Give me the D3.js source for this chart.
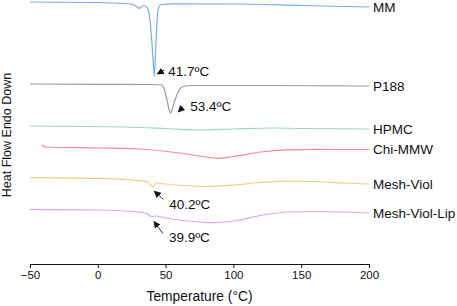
<!DOCTYPE html>
<html>
<head>
<meta charset="utf-8">
<script src="https://cdn.jsdelivr.net/npm/d3@7"></script>
<style>
  body { margin: 0; background: #fff; }
  svg { display: block; font-family: "Liberation Sans", Arial, sans-serif; }
</style>
</head>
<body>
<svg id="chart" width="457" height="306"></svg>
<script>
// temperature (°C) and heat flow (a.u., stacked offsets)
const mmT    = [-50, 0, 20, 27, 29, 30.5, 32, 33.5, 36, 38, 39.5, 40.8, 41.7, 42.5, 43.3, 44, 45, 47, 55, 100, 150, 200];
const mmHF   = [262, 261.5, 260.5, 259, 257, 255.7, 257, 258.5, 257, 249, 229, 204, 188, 209, 234, 249, 257, 259.5, 260.2, 260, 258.5, 257];
const p188T  = [-50, 0, 40, 47, 49, 51, 52.5, 53.4, 54.5, 56, 58, 60, 63, 70, 120, 200];
const p188HF = [180, 179.7, 179.5, 179, 175, 164, 155, 151, 153, 160, 168, 174, 177.5, 178.5, 178.5, 178];
const hpmcT  = [-50, 20, 50, 75, 100, 130, 150, 200];
const hpmcHF = [138, 137, 135.5, 134, 135, 136, 135.5, 135];
const chiT   = [-41, -39, 0, 30, 60, 80, 88, 100, 120, 140, 160, 200];
const chiHF  = [119, 117, 116, 115, 111, 107, 105.7, 107.5, 112, 114.2, 114.7, 114.5];
const violT  = [-50, 0, 30, 37, 40.2, 43, 50, 70, 80, 100, 120, 140, 160, 180, 200];
const violHF = [86.3, 85.7, 83.5, 82, 76.7, 81, 80, 78, 77.5, 79, 81.5, 82.8, 82.5, 81, 80];
const lipT   = [-50, 0, 30, 36, 39.9, 42, 50, 70, 85, 100, 120, 140, 160, 200];
const lipHF  = [54.7, 54, 52, 50.5, 47.5, 48, 46, 42.5, 41.3, 43, 48.5, 52, 52.5, 51];

const seriesNames = ["MM", "P188", "HPMC", "Chi-MMW", "Mesh-Viol", "Mesh-Viol-Lip"];
const seriesT = [mmT, p188T, hpmcT, chiT, violT, lipT];
const seriesHF = [mmHF, p188HF, hpmcHF, chiHF, violHF, lipHF];
const colors = ["#7ba7ee", "#9a9a9a", "#9fd9b4", "#f58a93", "#f0cf85", "#d7a8ef"];

// peak annotations
const peakSeries = [0, 1, 4, 5];
const peakT = [41.7, 53.4, 40.2, 39.9];
const peakLabels = ["41.7ºC", "53.4ºC", "40.2ºC", "39.9ºC"];

const xTicks = [-50, 0, 50, 100, 150, 200];

const margin = {top: 0, left: 30, right: 88, bottom: 42};
const width = 457 - margin.left - margin.right;
const height = 306 - margin.top - margin.bottom;

const svg = d3.select("#chart");
const g = svg.append("g").attr("transform", `translate(${margin.left},${margin.top})`);

const x = d3.scaleLinear().domain([-50, 200]).range([0, width]);
const y = d3.scaleLinear().domain([0, 264]).range([height, 0]);

const line = d3.line()
  .x(d => x(d[0]))
  .y(d => y(d[1]))
  .curve(d3.curveMonotoneX);

const series = seriesNames.map((name, i) => ({
  name,
  color: colors[i],
  points: seriesT[i].map((t, j) => [t, seriesHF[i][j]])
}));

g.selectAll("path.curve")
  .data(series)
  .join("path")
  .attr("class", "curve")
  .attr("fill", "none")
  .attr("stroke", d => d.color)
  .attr("stroke-width", 1.2)
  .attr("d", d => line(d.points));

// series labels at right end
g.selectAll("text.name")
  .data(series)
  .join("text")
  .attr("class", "name")
  .attr("x", width + 4)
  .attr("y", d => y(d.points[d.points.length - 1][1]))
  .attr("dy", "0.35em")
  .attr("font-size", 13.5)
  .attr("fill", "#111")
  .text(d => d.name);

// arrow marker
svg.append("defs").append("marker")
  .attr("id", "arrow")
  .attr("viewBox", "0 0 10 10")
  .attr("refX", 9).attr("refY", 5)
  .attr("markerWidth", 7).attr("markerHeight", 7)
  .attr("markerUnits", "userSpaceOnUse")
  .attr("orient", "auto")
  .append("path")
  .attr("d", "M0,0L10,5L0,10z")
  .attr("fill", "#111");

// annotation offsets: tip, tail, text (relative to peak)
const annOffsets = [
  {tip: [3, -2], tail: [10, -6], text: [14, -5]},
  {tip: [8, -1], tail: [13, -6], text: [20, -7]},
  {tip: [2, 4], tail: [11, 12], text: [17, 17]},
  {tip: [2, 5], tail: [11, 17], text: [17, 21]}
];

peakSeries.forEach((si, k) => {
  const s = series[si];
  const p = s.points.find(d => d[0] === peakT[k]);
  const px = x(p[0]), py = y(p[1]);
  const o = annOffsets[k];
  g.append("line")
    .attr("x1", px + o.tail[0]).attr("y1", py + o.tail[1])
    .attr("x2", px + o.tip[0]).attr("y2", py + o.tip[1])
    .attr("stroke", "#111")
    .attr("stroke-width", 0.9)
    .attr("marker-end", "url(#arrow)");
  g.append("text")
    .attr("x", px + o.text[0])
    .attr("y", py + o.text[1])
    .attr("dy", "0.35em")
    .attr("font-size", 13.5)
    .attr("fill", "#111")
    .text(peakLabels[k]);
});

// x axis with minor ticks
const axisG = g.append("g").attr("transform", `translate(0,${height})`);
axisG.call(d3.axisBottom(x).tickValues(d3.range(-50, 201, 25)).tickSize(3).tickFormat(""))
  .call(a => a.select(".domain").attr("stroke", "#111"))
  .call(a => a.selectAll(".tick line").attr("stroke", "#111"));
axisG.call(d3.axisBottom(x).tickValues(xTicks).tickSize(4).tickPadding(3))
  .call(a => a.select(".domain").attr("stroke", "#111").attr("stroke-width", 1.1))
  .call(a => a.selectAll(".tick line").attr("stroke", "#111"))
  .call(a => a.selectAll(".tick text").attr("font-size", 11.5).attr("fill", "#111").attr("font-family", "Liberation Sans, Arial, sans-serif"));

g.append("text")
  .attr("x", x(75))
  .attr("y", height + 37)
  .attr("text-anchor", "middle")
  .attr("font-size", 13.8)
  .attr("fill", "#111")
  .text("Temperature (°C)");

svg.append("text")
  .attr("transform", "translate(10.5,135) rotate(-90)")
  .attr("text-anchor", "middle")
  .attr("font-size", 12.5)
  .attr("fill", "#111")
  .text("Heat Flow Endo Down");
</script>
</body>
</html>
